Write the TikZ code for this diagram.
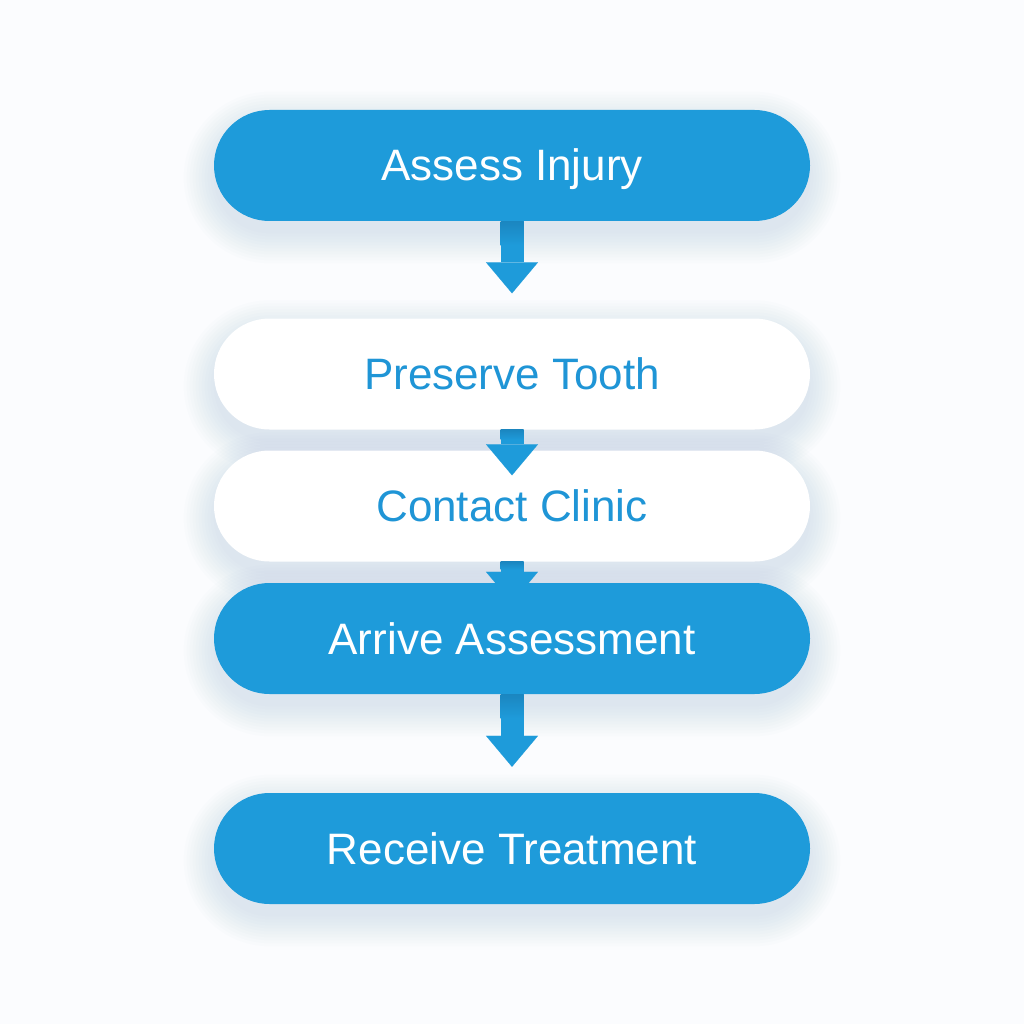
\documentclass[tikz,border=0pt]{standalone}
\usepackage{fontspec}
\setmainfont{Liberation Sans}
\usetikzlibrary{arrows.meta}
\definecolor{boxblue}{HTML}{1E9BDA}
\definecolor{bluetext}{HTML}{1F95D6}
\definecolor{shaftdark}{HTML}{1B86C0}
\definecolor{shadowc}{HTML}{8FA9CC}
\definecolor{bgc}{HTML}{FBFCFE}
\pgfdeclarelayer{bg}
\pgfsetlayers{bg,main}
\tikzset{
  box/.style={rectangle, rounded corners=55.5pt, minimum width=596pt, minimum height=111pt,
    inner sep=0pt, text height=31pt, text depth=0pt, font=\fontsize{44}{50}\selectfont},
  solidbox/.style={box, fill=boxblue, text=white},
  plainbox/.style={box, fill=white, text=bluetext},
  flow/.style={line width=23pt, draw=boxblue,
    -{Triangle[width=52pt,length=31pt,line width=0.1pt]}},
  shaftshade/.style={top color=shaftdark, bottom color=boxblue},
}
\begin{document}
\begin{tikzpicture}[x=1pt,y=1pt]
\useasboundingbox (0,0) rectangle (1024,-1024);
\node[solidbox] (b1) at (512,-165.5) {Assess Injury};
\node[plainbox] (b2) at (512,-374) {Preserve Tooth};
\node[plainbox] (b3) at (512,-506) {Contact Clinic};
\node[solidbox] (b4) at (512,-638.5) {Arrive Assessment};
\node[solidbox] (b5) at (512,-848.5) {Receive Treatment};
\begin{pgfonlayer}{bg}
  \fill[bgc] (0,0) rectangle (1024,-1024);
  \foreach \n in {b1,b2,b3,b4,b5}{
    \foreach \e in {0,3,...,30}{
      \fill[shadowc, opacity=0.022, rounded corners=55.5pt+\e pt]
        ([xshift=-\e pt,yshift=-\e pt-12pt]\n.south west) rectangle
        ([xshift=\e pt,yshift=\e pt-12pt]\n.north east);
    }
  }
\end{pgfonlayer}
\draw[flow, shorten >=25pt] (b1.south) -- (b2.north);
\draw[flow, shorten >=-25pt] (b2.south) -- (b3.north);
\draw[flow, shorten >=-20pt] (b3.south) -- (b4.north);
\draw[flow, shorten >=26pt] (b4.south) -- (b5.north);
\foreach \n/\h in {b1/24,b2/10,b3/8,b4/24}{
  \shade[shaftshade] ([xshift=-11.5pt]\n.south) rectangle ([xshift=11.5pt,yshift=-\h pt]\n.south);
}
\end{tikzpicture}
\end{document}
